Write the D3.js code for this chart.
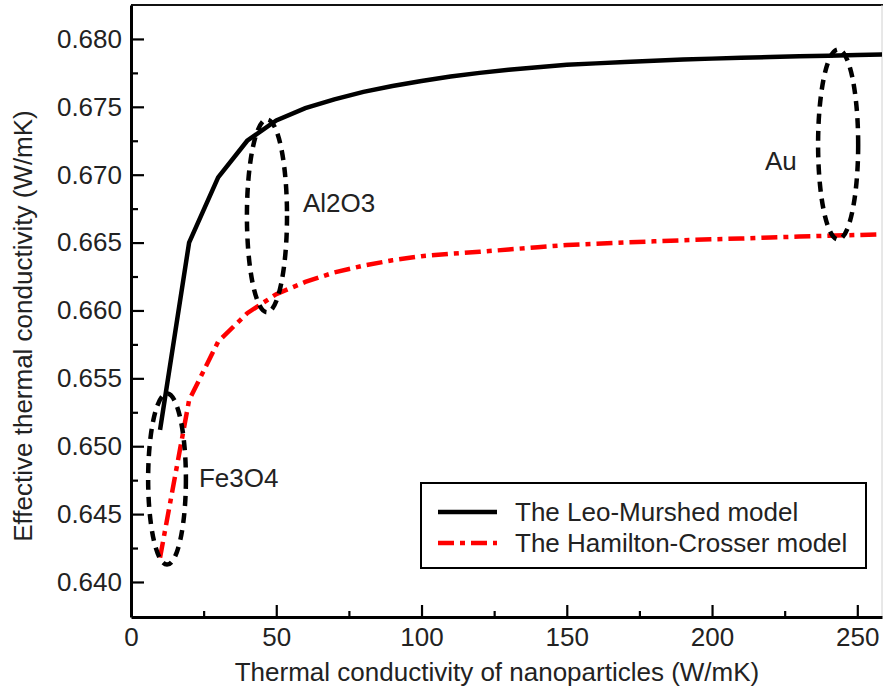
<!DOCTYPE html>
<html>
<head>
<meta charset="utf-8">
<script src="https://cdn.jsdelivr.net/npm/d3@7/dist/d3.min.js"></script>
<style>
  html, body { margin: 0; padding: 0; background: #fff; }
  text { font-family: "Liberation Sans", Arial, sans-serif; fill: #222; }
</style>
</head>
<body>
<svg id="chart" width="883" height="689"></svg>
<script>
// ---------- data ----------
const kParticle = [10, 20, 30, 40, 50, 60, 70, 80, 90, 100, 110, 120, 130, 140, 150, 160, 170, 180, 190, 200, 210, 220, 230, 240, 250, 260];
const leoMurshed = [0.6512, 0.6650, 0.6698, 0.6725, 0.6740, 0.67490, 0.67555, 0.67610, 0.67653, 0.67690, 0.67723, 0.67750, 0.67773, 0.67792, 0.67810, 0.67820, 0.67830, 0.67840, 0.67848, 0.67855, 0.67861, 0.67867, 0.67872, 0.67877, 0.67882, 0.67886];
const hamiltonCrosser = [0.6418, 0.6534, 0.6577, 0.6598, 0.6612, 0.66210, 0.66280, 0.66330, 0.66370, 0.66400, 0.66418, 0.66432, 0.66449, 0.66466, 0.66482, 0.66492, 0.66501, 0.66509, 0.66517, 0.66524, 0.66530, 0.66538, 0.66544, 0.66550, 0.66556, 0.66562];
const seriesNames = ["The Leo-Murshed model", "The Hamilton-Crosser model"];

const xTicks = [0, 50, 100, 150, 200, 250];
const xMinorTicks = [25, 75, 125, 175, 225];
const yTicks = [0.640, 0.645, 0.650, 0.655, 0.660, 0.665, 0.670, 0.675, 0.680];
const yMinorTicks = [0.6425, 0.6475, 0.6525, 0.6575, 0.6625, 0.6675, 0.6725, 0.6775];

// annotation ellipses (data coordinates)
const annoLabels = ["Fe3O4", "Al2O3", "Au"];
const annoCx = [12.4, 46.8, 243.4];
const annoCy = [0.64758, 0.66697, 0.67223];
const annoRx = [6.5, 6.9, 6.9];
const annoRy = [0.0063, 0.0071, 0.0070];
const annoLabelX = [23.4, 59.2, 218.2];
const annoLabelY = [0.6470, 0.66726, 0.67035];

// ---------- layout ----------
const svg = d3.select("#chart");
const mLeft = 131, mRight = 882, mTop = 5, mBottom = 617;

const x = d3.scaleLinear().domain([0, 258.5]).range([mLeft, mRight]);
const y = d3.scaleLinear().domain([0.63742, 0.6825]).range([mBottom, mTop]);

svg.append("defs").append("clipPath").attr("id", "plotclip")
  .append("rect").attr("x", mLeft).attr("y", mTop).attr("width", mRight - mLeft).attr("height", mBottom - mTop);

// frame (top / right)
svg.append("line").attr("x1", mLeft).attr("x2", 883).attr("y1", mTop).attr("y2", mTop)
  .attr("stroke", "#111").attr("stroke-width", 2.2);
svg.append("line").attr("x1", 882).attr("x2", 882).attr("y1", mTop).attr("y2", mBottom)
  .attr("stroke", "#d0d0d0").attr("stroke-width", 1);

// axes
const fmtY = d3.format(".3f");
svg.append("g").attr("transform", `translate(${mLeft},0)`)
  .call(d3.axisLeft(y).tickValues(yTicks).tickFormat(fmtY).tickSize(-13).tickSizeOuter(0).tickPadding(9));
svg.append("g").attr("transform", `translate(${mLeft},0)`)
  .call(d3.axisLeft(y).tickValues(yMinorTicks).tickFormat("").tickSize(-7).tickSizeOuter(0))
  .select(".domain").remove();

svg.append("g").attr("transform", `translate(0,${mBottom})`)
  .call(d3.axisBottom(x).tickValues(xTicks).tickFormat(d3.format("d")).tickSize(-12).tickSizeOuter(0).tickPadding(11));
svg.append("g").attr("transform", `translate(0,${mBottom})`)
  .call(d3.axisBottom(x).tickValues(xMinorTicks).tickFormat("").tickSize(-6).tickSizeOuter(0))
  .select(".domain").remove();

svg.selectAll(".domain").attr("stroke", "#000").attr("stroke-width", 3);
svg.selectAll(".tick line").attr("stroke", "#000").attr("stroke-width", 2.2);
svg.selectAll(".tick text").attr("font-size", 26).attr("font-family", "Liberation Sans, Arial, sans-serif").attr("fill", "#222");

// axis titles
svg.append("text").attr("x", 497).attr("y", 681).attr("text-anchor", "middle")
  .attr("font-size", 26).text("Thermal conductivity of nanoparticles (W/mK)");
svg.append("text").attr("transform", "translate(32,326) rotate(-90)").attr("text-anchor", "middle")
  .attr("font-size", 26).text("Effective thermal conductivity (W/mK)");

// lines
const plot = svg.append("g").attr("clip-path", "url(#plotclip)");
const lineGen = vals => d3.line().x((d, i) => x(kParticle[i])).y(d => y(d))(vals);

plot.append("path").attr("d", lineGen(hamiltonCrosser)).attr("fill", "none")
  .attr("stroke", "#ff0000").attr("stroke-width", 4.5).attr("stroke-dasharray", "16,6,5,6");
plot.append("path").attr("d", lineGen(leoMurshed)).attr("fill", "none")
  .attr("stroke", "#000").attr("stroke-width", 4.5);

// annotation ellipses
annoLabels.forEach((lab, i) => {
  plot.append("ellipse")
    .attr("cx", x(annoCx[i])).attr("cy", y(annoCy[i]))
    .attr("rx", x(annoCx[i] + annoRx[i]) - x(annoCx[i]))
    .attr("ry", y(annoCy[i] - annoRy[i]) - y(annoCy[i]))
    .attr("fill", "none").attr("stroke", "#000").attr("stroke-width", 4.5)
    .attr("stroke-dasharray", "10,7");
  svg.append("text").attr("x", x(annoLabelX[i])).attr("y", y(annoLabelY[i]))
    .attr("font-size", 26).text(lab);
});

// legend
const lg = svg.append("g");
lg.append("rect").attr("x", 421).attr("y", 483).attr("width", 445).attr("height", 85)
  .attr("fill", "#fff").attr("stroke", "#000").attr("stroke-width", 2);
const legendStyles = [
  { stroke: "#000", dash: null },
  { stroke: "#ff0000", dash: "16,6,5,6" }
];
seriesNames.forEach((name, i) => {
  const yy = 512 + i * 31;
  lg.append("line").attr("x1", 438).attr("x2", 497).attr("y1", yy).attr("y2", yy)
    .attr("stroke", legendStyles[i].stroke).attr("stroke-width", 4.5)
    .attr("stroke-dasharray", legendStyles[i].dash);
  lg.append("text").attr("x", 515).attr("y", yy + 9).attr("font-size", 26).text(name);
});
</script>
</body>
</html>
